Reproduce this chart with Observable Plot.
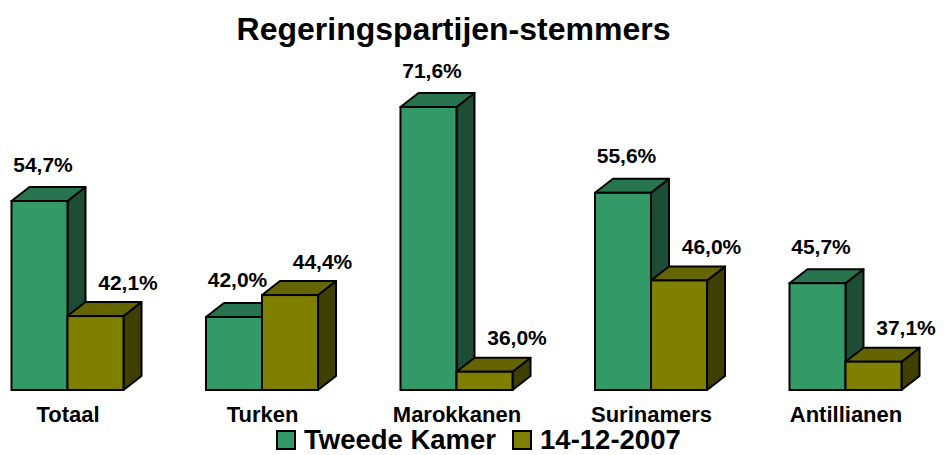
<!DOCTYPE html>
<html><head><meta charset="utf-8">
<script src="https://cdn.jsdelivr.net/npm/d3@7"></script>
<script src="https://cdn.jsdelivr.net/npm/@observablehq/plot@0.6"></script>
<style>
html,body{margin:0;padding:0;background:#fff;}
#chart{width:946px;height:455px;overflow:hidden;}
#legend{box-sizing:border-box;width:946px;height:30px;padding-left:277px;}
#legend div{font-family:"Liberation Sans",Arial,sans-serif !important;font-size:27.5px !important;font-weight:bold !important;color:#000 !important;margin:0 !important;min-height:30px !important;height:30px !important;display:flex !important;align-items:center !important;flex-wrap:nowrap !important;}
#legend span{display:inline-flex !important;align-items:center !important;margin-right:17px !important;font-size:27.5px !important;}
#legend svg{margin-right:9px !important;overflow:visible !important;}
#legend rect{stroke:#000;stroke-width:2px;}
</style></head><body><div id="chart"></div><script>
const categories = ["Totaal", "Turken", "Marokkanen", "Surinamers", "Antillianen"];
const seriesNames = ["Tweede Kamer", "14-12-2007"];
const tweedeKamer = [54.7, 42.0, 71.6, 55.6, 45.7];
const dec2007 = [42.1, 44.4, 36.0, 46.0, 37.1];
const frontColors = ["#339966", "#808000"];
const topColors = ["#28744f", "#656500"];
const sideColors = ["#1d4d35", "#3f3f00"];
const title = "Regeringspartijen-stemmers";

const Y_MIN = 34, Y_MAX = 65;
const BAR = 0.288;          // bar width in category units
const DX = 18, DY = -14;    // 3D depth in pixels
const FONT = '"Liberation Sans", Arial, Helvetica, sans-serif';

const rows = [];
[tweedeKamer, dec2007].forEach((vals, s) => vals.forEach((v, i) => rows.push({
  cat: categories[i], i, s, series: seriesNames[s], value: v,
  x1: s === 0 ? i - BAR : i, x2: s === 0 ? i : i + BAR
})));

function depthFaces(s) {
  return (index, scales) => {
    const x = scales.x, y = scales.y;
    const g = d3.create("svg:g").attr("stroke", "#000").attr("stroke-width", 2).attr("stroke-linejoin", "round");
    for (const r of rows.filter(d => d.s === s)) {
      const xl = x(r.x1), xr = x(r.x2), yt = y(r.value), yb = y(Y_MIN);
      g.append("path").attr("fill", sideColors[s])
        .attr("d", `M${xr},${yb}L${xr},${yt}L${xr + DX},${yt + DY}L${xr + DX},${yb + DY}Z`);
      g.append("path").attr("fill", topColors[s])
        .attr("d", `M${xl},${yt}L${xr},${yt}L${xr + DX},${yt + DY}L${xl + DX},${yt + DY}Z`);
    }
    return g.node();
  };
}

const fmt = v => v.toFixed(1).replace(".", ",") + "%";
const front = s => Plot.rect(rows.filter(d => d.s === s), {
  x1: "x1", x2: "x2", y1: () => Y_MIN, y2: "value", fill: "series",
  stroke: "#000", strokeWidth: 2
});
const labels = (s, dx, dy) => Plot.text(rows.filter(d => d.s === s), {
  x: d => (d.x1 + d.x2) / 2, y: "value", text: d => fmt(d.value),
  dx, dy, lineAnchor: "bottom", fontSize: 21, fontWeight: "bold", fill: "#000", fontFamily: FONT
});

const plot = Plot.plot({
  width: 946, height: 425,
  marginLeft: 67.5, marginRight: 100.5, marginTop: 107, marginBottom: 35,
  x: {domain: [0, 4], axis: null},
  y: {domain: [Y_MIN, Y_MAX], axis: null, clamp: true},
  color: {domain: seriesNames, range: frontColors},
  style: {fontFamily: FONT, background: "#fff", overflow: "visible"},
  marks: [
    depthFaces(0),
    front(0),
    depthFaces(1),
    front(1),
    labels(0, 3, -30),
    labels(1, 32, -27),
    Plot.text(categories, {x: (d, i) => i, text: d => d, frameAnchor: "bottom", lineAnchor: "bottom",
      dy: 31, fontSize: 22, fontWeight: "bold", fill: "#000", fontFamily: FONT}),
    Plot.text([title], {text: d => d, frameAnchor: "top", lineAnchor: "bottom", dy: -68, dx: -3.5,
      fontSize: 32, fontWeight: "bold", fill: "#000", fontFamily: FONT})
  ]
});
const chart = document.getElementById("chart");
chart.appendChild(plot);
const legendBox = document.createElement("div");
legendBox.id = "legend";
legendBox.appendChild(plot.legend("color", {swatchSize: 18}));
chart.appendChild(legendBox);
</script></body></html>
